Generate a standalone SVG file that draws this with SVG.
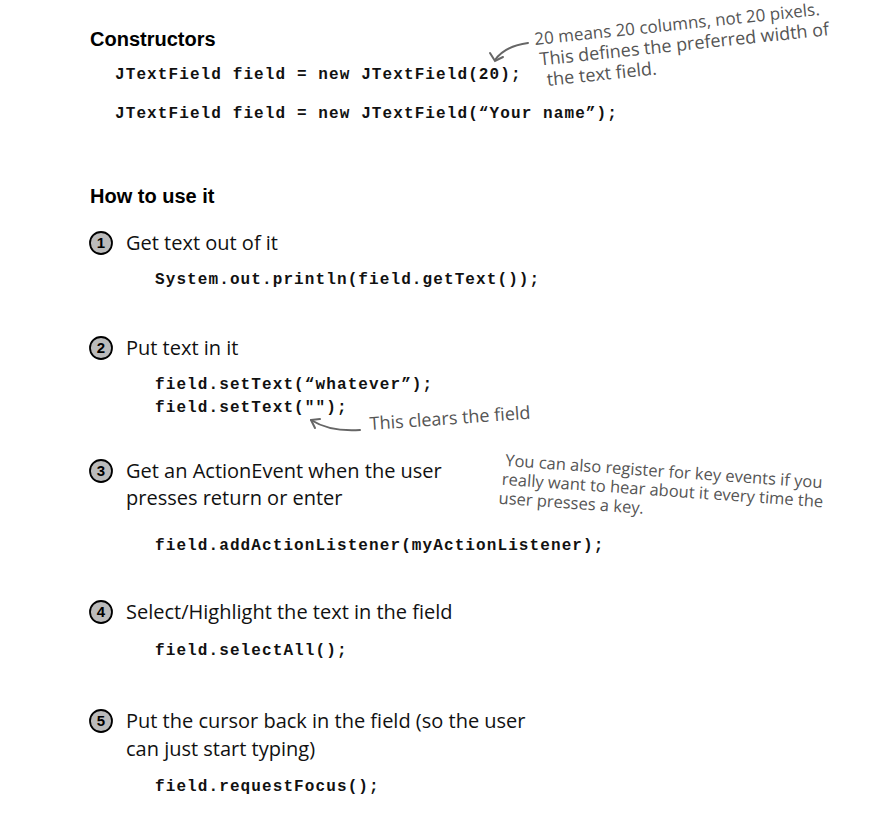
<svg xmlns="http://www.w3.org/2000/svg" width="888" height="814" viewBox="0 0 888 814">
<style>
.h{font-family:"Liberation Sans",Arial,sans-serif;font-weight:bold;font-size:20px;fill:#000}
.c{font-family:"Liberation Mono","Courier New",monospace;font-weight:bold;font-size:16px;letter-spacing:1.1px;fill:#111}
.t{font-family:"Open Sans","Liberation Sans",sans-serif;font-size:20px;fill:#111}
.n{fill:#bbb;stroke:#000;stroke-width:1.8}
.nt{font-family:"Liberation Sans",sans-serif;font-weight:bold;font-size:15px;text-anchor:middle;fill:#000}
.a{font-family:"Open Sans","Liberation Sans",sans-serif;font-size:18px;fill:#555}
.ln{fill:none;stroke:#666;stroke-width:2;stroke-linecap:round}
</style>
<rect width="888" height="814" fill="#fff"/>
<text class="h" x="90" y="46">Constructors</text>
<text class="c" x="115" y="79">JTextField field = new JTextField(20);</text>
<text class="c" x="115" y="118">JTextField field = new JTextField(“Your name”);</text>
<g id="note1">
<g class="a" transform="rotate(-6 535 44)">
<text x="535" y="45" font-size="17">20 means 20 columns, not 20 pixels.</text>
<text x="538" y="66">This defines the preferred width of</text>
<text x="543" y="87">the text field.</text>
</g>
</g>
<text class="h" x="90" y="203">How to use it</text>
<g id="s1"><circle class="n" cx="101" cy="243" r="11"/><text class="nt" x="101" y="248">1</text>
<text class="t" x="126" y="250">Get text out of it</text>
<text class="c" x="155" y="284">System.out.println(field.getText());</text></g>
<g id="s2"><circle class="n" cx="101" cy="348" r="11"/><text class="nt" x="101" y="353">2</text>
<text class="t" x="126" y="355">Put text in it</text>
<text class="c" x="155" y="389">field.setText(“whatever”);</text>
<text class="c" x="155" y="412">field.setText("");</text></g>
<g id="note2"><text class="a" x="370" y="430" transform="rotate(-4 370 430)">This clears the field</text></g>
<g id="s3"><circle class="n" cx="101" cy="471" r="11"/><text class="nt" x="101" y="476">3</text>
<text class="t" x="126" y="478">Get an ActionEvent when the user</text>
<text class="t" x="126" y="505">presses return or enter</text>
<text class="c" x="155" y="550">field.addActionListener(myActionListener);</text></g>
<g id="note3" class="a" transform="rotate(4 505 465)">
<text x="505" y="466" font-size="16.5">You can also register for key events if you</text>
<text x="503" y="485" font-size="16.5">really want to hear about it every time the</text>
<text x="501" y="504" font-size="16.5">user presses a key.</text>
</g>
<g id="s4"><circle class="n" cx="101" cy="612" r="11"/><text class="nt" x="101" y="617">4</text>
<text class="t" x="126" y="619">Select/Highlight the text in the field</text>
<text class="c" x="155" y="655">field.selectAll();</text></g>
<g id="s5"><circle class="n" cx="101" cy="721" r="11"/><text class="nt" x="101" y="726">5</text>
<text class="t" x="126" y="728">Put the cursor back in the field (so the user</text>
<text class="t" x="126" y="756">can just start typing)</text>
<text class="c" x="155" y="791">field.requestFocus();</text></g>
<g id="connectors">
<path class="ln" d="M528 43 Q505 46 495 60"/>
<path class="ln" d="M490 53 L495 61 L503 57"/>
<path class="ln" d="M360 430 Q330 432 311 420"/>
<path class="ln" d="M311 420 L320 419 M311 420 L315 428"/>
</g>
</svg>
